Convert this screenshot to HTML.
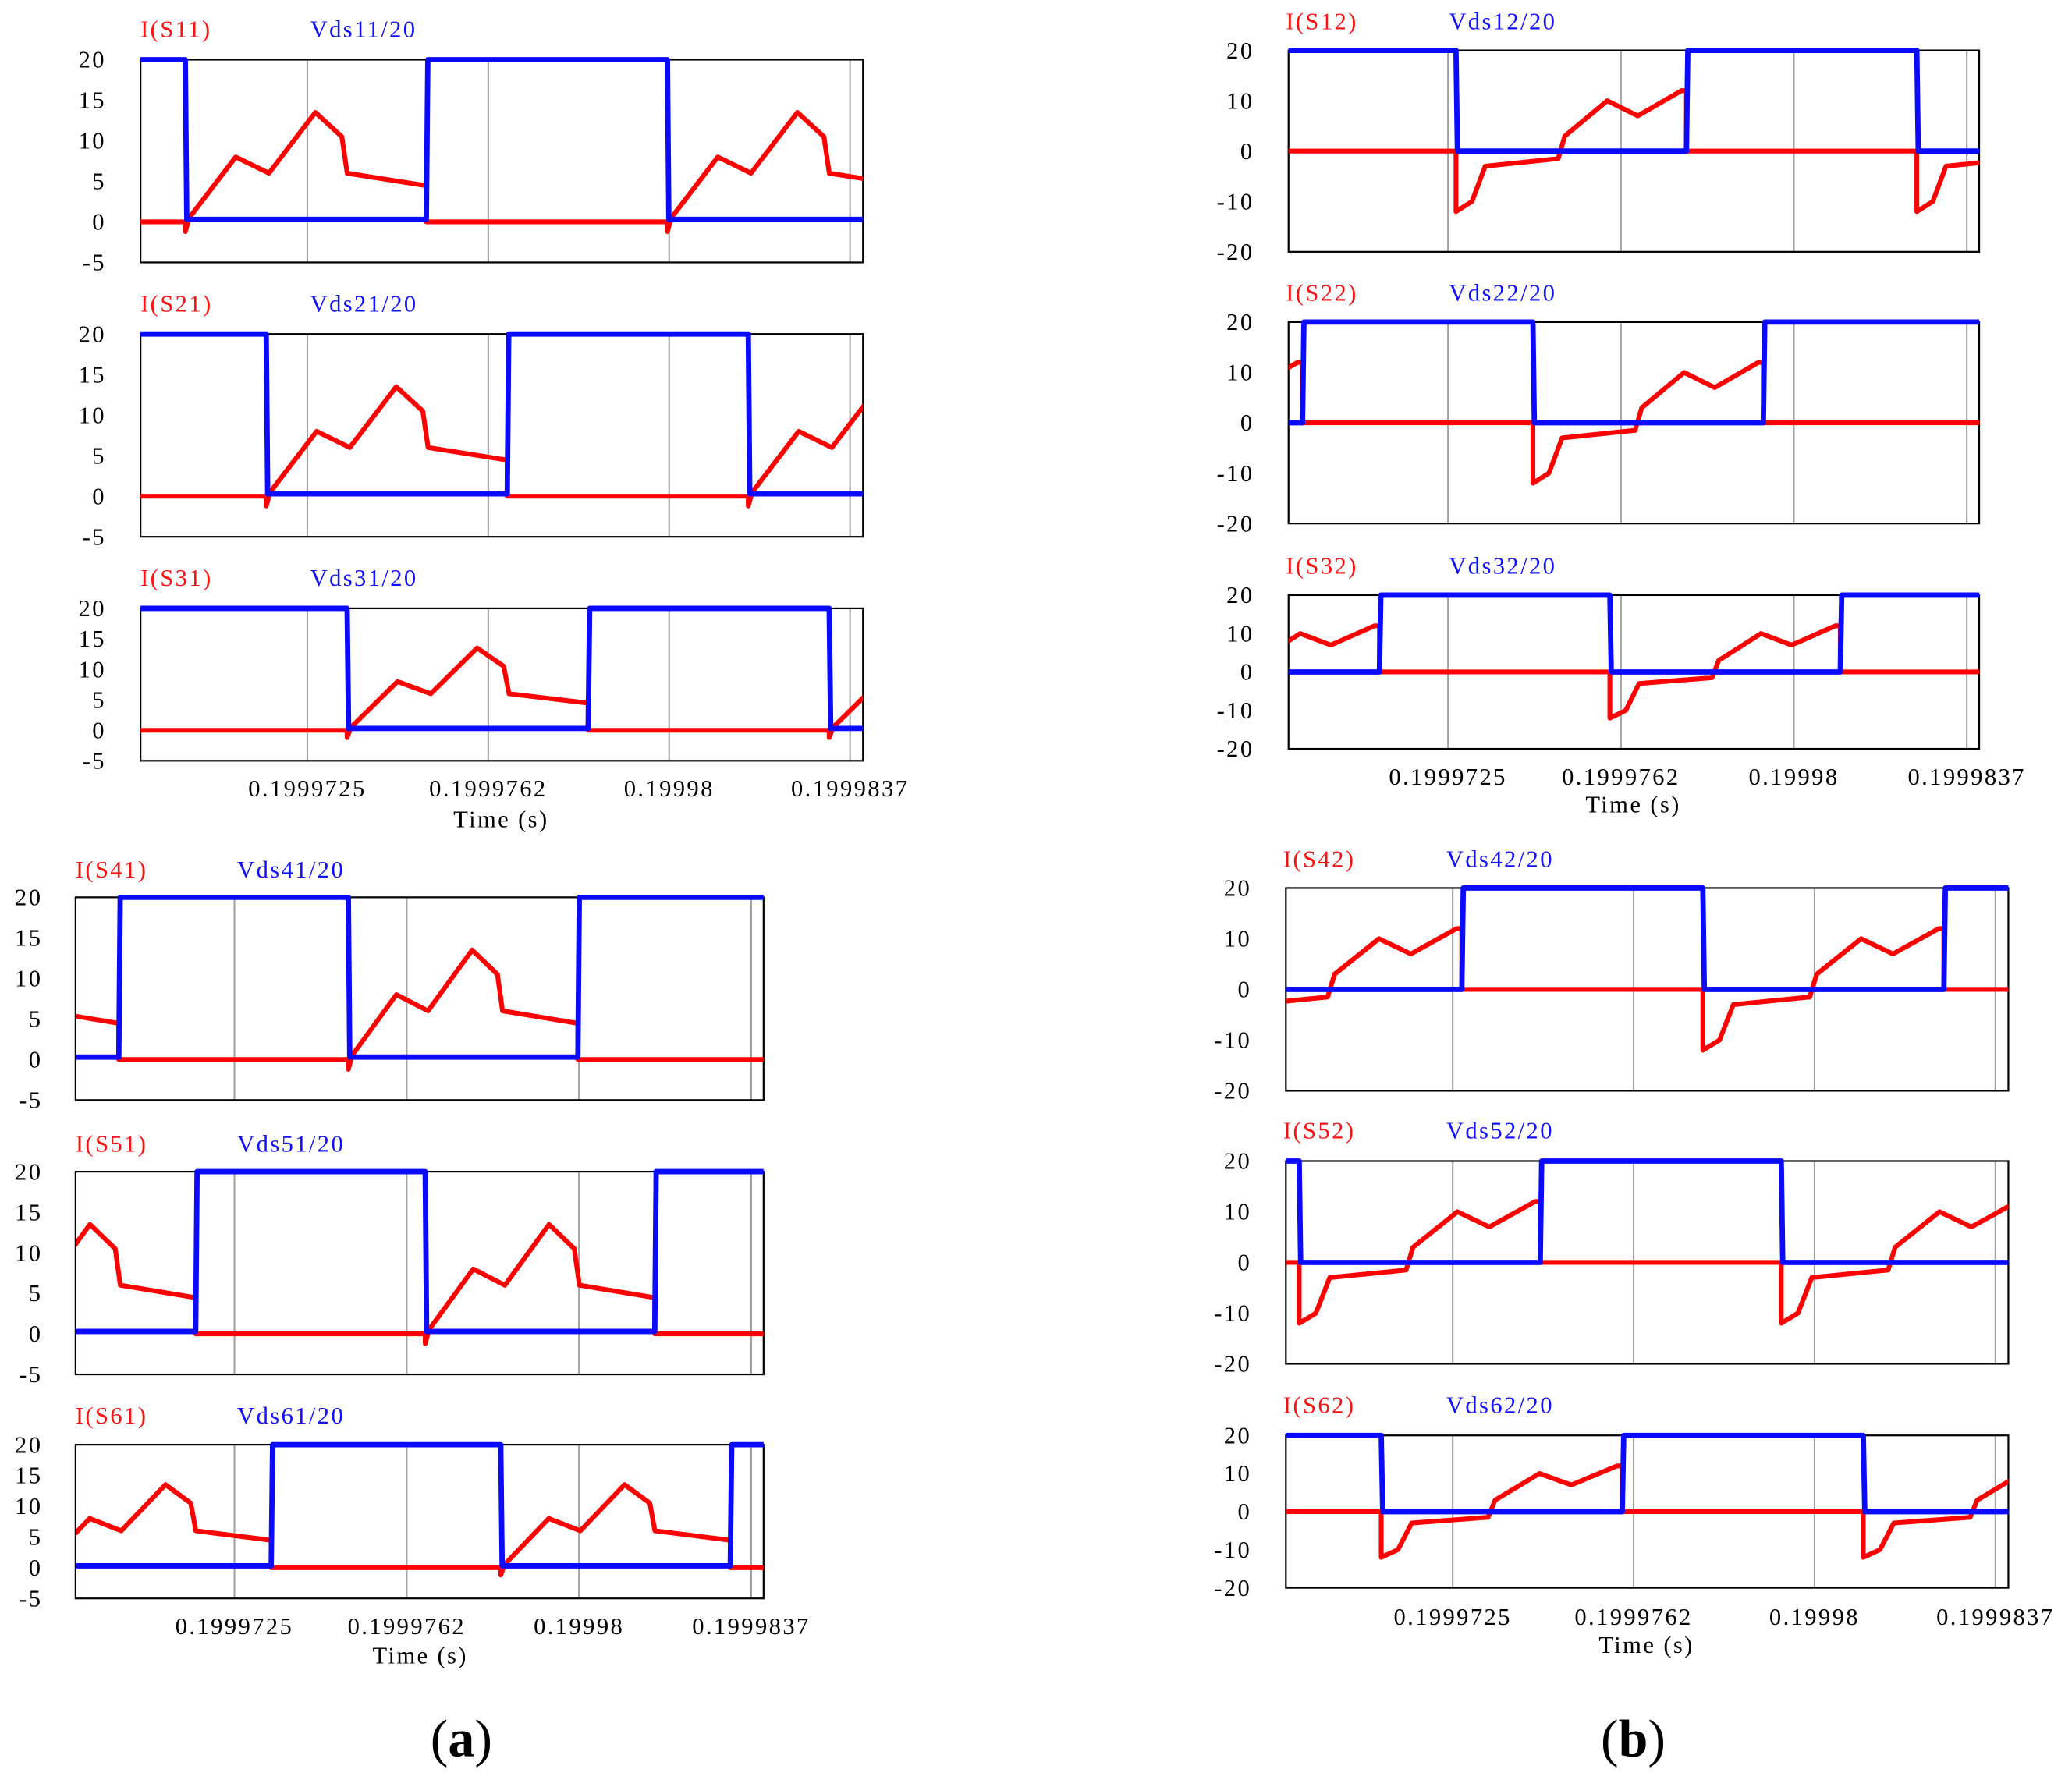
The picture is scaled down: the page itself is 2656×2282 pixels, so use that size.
<!DOCTYPE html>
<html><head><meta charset="utf-8"><style>
html,body{margin:0;padding:0;background:#fff;}
svg{display:block;}
text{font-family:"Liberation Serif",serif;letter-spacing:1.4px;}
</style></head><body>
<svg id="fig" width="2656" height="2282" viewBox="0 0 1563 1343" preserveAspectRatio="none" xmlns="http://www.w3.org/2000/svg">
<rect x="0" y="0" width="1563" height="1343" fill="#fff"/>
<text x="348" y="1325" font-size="40" text-anchor="middle" style="letter-spacing:0">(<tspan font-weight="bold">a</tspan>)</text>
<text x="1232" y="1325" font-size="40" text-anchor="middle" style="letter-spacing:0">(<tspan font-weight="bold">b</tspan>)</text>
</svg>
<script>
// ---- data ----
const tMin = -912, tMax = 13865;
const period = 9860, half = 4930;
const tickTimes = [2500, 6200, 9900, 13600];
const tickLabels = ['0.1999725', '0.1999762', '0.19998', '0.1999837'];
const shapeAT = [0, 80, 1031, 1710, 2659, 3202, 3311, 4885, 4930];
const shapeAI = [-1.2, 0.5, 8, 6, 13.5, 10.5, 6, 4.5, 4.5];
const shapeBT = [0, 341, 624, 2186, 2328, 3236, 3889, 4825, 4930];
const shapeBI = [-12, -10, -3, -1.5, 3, 10, 7, 12, 12];
const vHigh = 20, vLowA = 0.3, vLowB = 0;
const panelNames = ['11','21','31','41','51','61','12','22','32','42','52','62'];
const offTimes = [4, 1659, 3314, 4947, 6598, 8220, 2671, 4317, 5963, 7616, -640, 1038];
const yTicksA = [20, 15, 10, 5, 0, -5];
const yTicksB = [20, 10, 0, -10, -20];

// ---- layout (pixel geometry only) ----
const layout = [
 {x0:106,x1:651,y0:45,y1:198,type:'a',lab:22,yl:80},
 {x0:106,x1:651,y0:252,y1:405,type:'a',lab:229,yl:80},
 {x0:106,x1:651,y0:459,y1:574,type:'a',lab:436,yl:80,axis:{ty:601,tt:624,tc:378}},
 {x0:57,x1:576,y0:677,y1:830,type:'a',lab:656,yl:32},
 {x0:57,x1:576,y0:884,y1:1037,type:'a',lab:863,yl:32},
 {x0:57,x1:576,y0:1090,y1:1206,type:'a',lab:1068,yl:32,axis:{ty:1233,tt:1255,tc:317}},
 {x0:972,x1:1493,y0:38,y1:190,type:'b',lab:16,yl:946},
 {x0:972,x1:1493,y0:243,y1:395,type:'b',lab:221,yl:946},
 {x0:972,x1:1493,y0:449,y1:565,type:'b',lab:427,yl:946,axis:{ty:592,tt:613,tc:1232}},
 {x0:970,x1:1515,y0:670,y1:823,type:'b',lab:648,yl:944},
 {x0:970,x1:1515,y0:876,y1:1029,type:'b',lab:853,yl:944},
 {x0:970,x1:1515,y0:1083,y1:1198,type:'b',lab:1060,yl:944,axis:{ty:1226,tt:1247,tc:1242}}
];

const NS = 'http://www.w3.org/2000/svg';
const svg = document.getElementById('fig');
function mk(tag, attrs, parent) {
  const e = document.createElementNS(NS, tag);
  for (const k in attrs) e.setAttribute(k, attrs[k]);
  (parent || svg).appendChild(e);
  return e;
}

layout.forEach((L, i) => {
  const nm = panelNames[i];
  const yMax = 20, yMin = L.type === 'a' ? -5 : -20;
  const xs = t => L.x0 + (t - tMin) / (tMax - tMin) * (L.x1 - L.x0);
  const ys = v => L.y0 + (yMax - v) / (yMax - yMin) * (L.y1 - L.y0);
  const g = mk('g', {});
  
  

  const cp = mk('clipPath', {id: 'clip' + i}, g);
  mk('rect', {x: L.x0, y: L.y0 - 4, width: L.x1 - L.x0, height: L.y1 - L.y0 + 8}, cp);

  tickTimes.forEach((t, k) => {
    const gl = mk('line', {x1: xs(t), x2: xs(t), y1: L.y0, y2: L.y1, stroke: '#a0a0a0', 'stroke-width': 1.2}, g);
    
    
  });
  const box = mk('rect', {x: L.x0, y: L.y0, width: L.x1 - L.x0, height: L.y1 - L.y0, fill: 'none', stroke: '#000', 'stroke-width': 1.3}, g);
  
  

  const yt = L.type === 'a' ? yTicksA : yTicksB;
  yt.forEach(v => {
    const tx = mk('text', {x: L.yl, y: ys(v) + 6, 'font-size': 18, 'text-anchor': 'end', fill: '#000'}, g);
    tx.textContent = v;
    
    
  });

  const t1 = mk('text', {x: L.x0 - (L.type === 'b' ? 2 : 0), y: L.lab + 6, 'font-size': 18, fill: '#ff1010'}, g);
  t1.textContent = 'I(S' + nm + ')';
  
  
  const t2 = mk('text', {x: L.x0 + (L.type === 'b' ? 121 : (i < 3 ? 128 : 122)), y: L.lab + 6, 'font-size': 18, fill: '#1010ff'}, g);
  t2.textContent = 'Vds' + nm + '/20';
  
  

  const st = L.type === 'a' ? shapeAT : shapeBT;
  const si = L.type === 'a' ? shapeAI : shapeBI;
  const vLow = L.type === 'a' ? vLowA : vLowB;
  const red = [], blue = [];
  for (let c = -3; c <= 3; c++) {
    const off = offTimes[i] + c * period;
    red.push([off, 0]);
    st.forEach((d, k) => red.push([off + d, si[k]]));
    red.push([off + half, 0]);
    red.push([off + period, 0]);
    blue.push([off, vHigh]);
    blue.push([off + 30, vLow]);
    blue.push([off + half, vLow]);
    blue.push([off + half + 30, vHigh]);
    blue.push([off + period, vHigh]);
  }
  const toPath = pts => pts.map((p, k) => (k ? 'L' : 'M') + xs(p[0]).toFixed(2) + ',' + ys(p[1]).toFixed(2)).join('');
  const rp = mk('path', {d: toPath(red), fill: 'none', stroke: '#ff0000', 'stroke-width': 3.6, 'stroke-linejoin': 'round', 'clip-path': 'url(#clip' + i + ')'}, g);
  
  
  const bp = mk('path', {d: toPath(blue), fill: 'none', stroke: '#0a0aff', 'stroke-width': 4, 'stroke-linejoin': 'round', 'clip-path': 'url(#clip' + i + ')'}, g);
  
  

  if (L.axis) {
    tickTimes.forEach((t, k) => {
      const tx = mk('text', {x: xs(t), y: L.axis.ty, 'font-size': 18, 'text-anchor': 'middle', fill: '#000'}, g);
      tx.textContent = tickLabels[k];
      
      
    });
    const tt = mk('text', {x: L.axis.tc, y: L.axis.tt, 'font-size': 18, 'text-anchor': 'middle', fill: '#000'}, g);
    tt.textContent = 'Time (s)';
    
    
  }
});
</script>
</body></html>
